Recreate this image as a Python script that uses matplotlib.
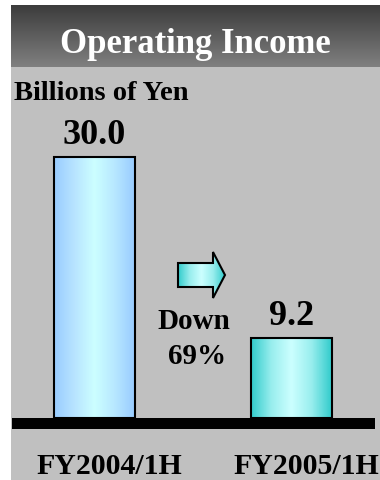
import numpy as np
import matplotlib
matplotlib.use('Agg')
import matplotlib.pyplot as plt
from matplotlib.patches import Rectangle, Polygon
from matplotlib.colors import LinearSegmentedColormap

plt.rcParams['font.family'] = ['Liberation Serif', 'DejaVu Serif']
plt.rcParams['font.weight'] = 'bold'

# Operating income, billions of yen
periods = ['FY2004/1H', 'FY2005/1H']
income = [30.0, 9.2]
change_text = 'Down\n69%'

GRAY = '#c0c0c0'
bar_maps = [
    LinearSegmentedColormap.from_list('blue', ['#99ccff', '#b8e4ff', '#ccffff', '#b8e8ff', '#99ccff']),
    LinearSegmentedColormap.from_list('teal', ['#33cccc', '#99eeee', '#ccffff', '#99eeee', '#33cccc']),
]
title_map = LinearSegmentedColormap.from_list('title', ['#3c3c3c', '#808080'])

fig = plt.figure(figsize=(3.8, 4.8), dpi=100)
fig.patch.set_facecolor('white')

# background layer in pixel units
bg = fig.add_axes([0, 0, 1, 1])
bg.set_xlim(0, 380)
bg.set_ylim(480, 0)
bg.axis('off')
bg.add_patch(Rectangle((11, 5), 369, 475, facecolor=GRAY, edgecolor='none'))
grad = np.linspace(0, 1, 100).reshape(-1, 1)
bg.imshow(grad, cmap=title_map, extent=[11, 380, 67, 5], aspect='auto', zorder=1)
bg.set_xlim(0, 380)
bg.set_ylim(480, 0)
bg.text(195, 53, 'Operating Income', color='white', fontsize=25, ha='center', va='baseline', zorder=2)
bg.text(14, 100, 'Billions of Yen', color='black', fontsize=20.5, ha='left', va='baseline', zorder=2)

# arrow
arrow = Polygon([(178, 263), (213, 263), (213, 252), (225, 275), (213, 298), (213, 287), (178, 287)],
                closed=True, facecolor='none', edgecolor='black', linewidth=1.5, zorder=3)
bg.add_patch(arrow)
hgrad = np.linspace(0, 1, 100).reshape(1, -1)
im = bg.imshow(hgrad, cmap=bar_maps[1], extent=[178, 225, 298, 252], aspect='auto', zorder=2)
im.set_clip_path(arrow)
bg.set_xlim(0, 380)
bg.set_ylim(480, 0)
bg.text(194, 329, change_text.split('\n')[0], fontsize=21, ha='center', va='baseline', zorder=3)
bg.text(197, 364, change_text.split('\n')[1], fontsize=21, ha='center', va='baseline', zorder=3)

# baseline strip
bg.add_patch(Rectangle((12, 418), 363, 11, facecolor='black', edgecolor='none', zorder=3))

# bars
ax = fig.add_axes([0, 0, 1, 1])
ax.patch.set_alpha(0)
ax.axis('off')
px_x = 197.5
px_y = 8.7
ax.set_xlim(-94 / px_x, (380 - 94) / px_x)
ax.set_ylim(-62 / px_y, (480 - 62) / px_y)

x = np.arange(len(periods))
bars = ax.bar(x, income, width=81 / px_x, facecolor='none', edgecolor='black', linewidth=1.5, zorder=3)
for rect, cmap, val in zip(bars, bar_maps, income):
    x0, w, h = rect.get_x(), rect.get_width(), rect.get_height()
    im = ax.imshow(hgrad, cmap=cmap, extent=[x0, x0 + w, 0, h], aspect='auto', zorder=2)
    im.set_clip_path(rect)
    ax.annotate(f'{val:.1f}', (x0 + w / 2, h), xytext=(0, 9), textcoords='offset points',
                ha='center', va='baseline', fontsize=26)
ax.set_xlim(-94 / px_x, (380 - 94) / px_x)
ax.set_ylim(-62 / px_y, (480 - 62) / px_y)

for i, label in enumerate(periods):
    ax.text(i + 15 / px_x, -56 / px_y, label, fontsize=21.5, ha='center', va='baseline')

fig.savefig('out.png', dpi=100)
